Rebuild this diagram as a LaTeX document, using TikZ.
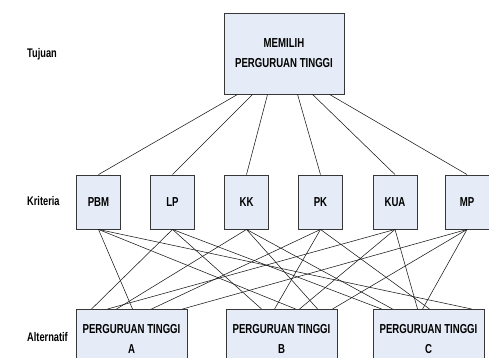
\documentclass[tikz,border=0pt]{standalone}
\usepackage{fontspec}
\setmainfont{Liberation Sans}
\newfontfamily\narrowfont[FakeStretch=0.74]{Liberation Sans}
\usetikzlibrary{calc}
\definecolor{boxfill}{RGB}{230,236,247}
\definecolor{boxline}{RGB}{55,55,55}
\tikzset{
  box/.style={draw=boxline, line width=0.9pt, fill=boxfill, inner sep=0pt,
              font=\narrowfont\bfseries\fontsize{13}{20}\selectfont, align=center},
  critbox/.style={box, minimum width=44pt, minimum height=54pt},
  altbox/.style={box, minimum width=111pt, minimum height=60pt, anchor=north},
  levellabel/.style={anchor=west, inner sep=0pt, font=\narrowfont\bfseries\fontsize{12.5}{14}\selectfont},
  link/.style={draw=black!90, line width=0.55pt}
}
\begin{document}
\begin{tikzpicture}[x=1pt, y=-1pt]
\useasboundingbox (0,0) rectangle (489,358);
\clip (0,0) rectangle (489,358);

% level labels
\node[levellabel] (lTujuan) at (27,54) {Tujuan};
\node[levellabel] (lKriteria) at (27,201) {Kriteria};
\node[levellabel] (lAlternatif) at (27,337) {Alternatif};

% goal
\node[box, minimum width=120pt, minimum height=81pt] (goal) at (284,53.5)
  {MEMILIH\\PERGURUAN TINGGI};

% criteria
\node[critbox] (pbm) at (98.5,202) {PBM};
\node[critbox] (lp)  at (172.5,202) {LP};
\node[critbox] (kk)  at (246.5,202) {KK};
\node[critbox] (pk)  at (320.5,202) {PK};
\node[critbox] (kua) at (395,202) {KUA};
\node[critbox] (mp)  at (467,202) {MP};

% alternatives
\node[altbox] (altA) at (131.5,309) {PERGURUAN TINGGI\\A};
\node[altbox] (altB) at (281.5,309) {PERGURUAN TINGGI\\B};
\node[altbox] (altC) at (428.5,309) {PERGURUAN TINGGI\\C};

% goal -> criteria
\draw[link] ([xshift=14pt]goal.south west)  -- (pbm.north);
\draw[link] ([xshift=29pt]goal.south west)  -- (lp.north);
\draw[link] ([xshift=44pt]goal.south west)  -- (kk.north);
\draw[link] ([xshift=74pt]goal.south west)  -- (pk.north);
\draw[link] ([xshift=89pt]goal.south west)  -- (kua.north);
\draw[link] ([xshift=106pt]goal.south west) -- (mp.north);

% criteria -> alternative A
\draw[link] (lp.south)  -- ([xshift=16pt]altA.north west);
\draw[link] (kua.south) -- ([xshift=32pt]altA.north west);
\draw[link] (kk.south)  -- ([xshift=41pt]altA.north west);
\draw[link] (pbm.south) -- ([xshift=57pt]altA.north west);
\draw[link] (pk.south)  -- ([xshift=76pt]altA.north west);
\draw[link] (mp.south)  -- ([xshift=107pt]altA.north west);

% criteria -> alternative B
\draw[link] (lp.south)  -- ([xshift=36pt]altB.north west);
\draw[link] (pk.south)  -- ([xshift=49pt]altB.north west);
\draw[link] (pbm.south) -- ([xshift=70pt]altB.north west);
\draw[link] (kua.south) -- ([xshift=74pt]altB.north west);
\draw[link] (kk.south)  -- ([xshift=92pt]altB.north west);
\draw[link] (mp.south)  -- ([xshift=107pt]altB.north west);

% criteria -> alternative C
\draw[link] (lp.south)  -- ([xshift=9pt]altC.north west);
\draw[link] (kk.south)  -- ([xshift=20pt]altC.north west);
\draw[link] (kua.south) -- ([xshift=45pt]altC.north west);
\draw[link] (mp.south)  -- ([xshift=50pt]altC.north west);
\draw[link] (pk.south)  -- ([xshift=57pt]altC.north west);
\draw[link] (pbm.south) -- ([xshift=99pt]altC.north west);
\end{tikzpicture}
\end{document}
